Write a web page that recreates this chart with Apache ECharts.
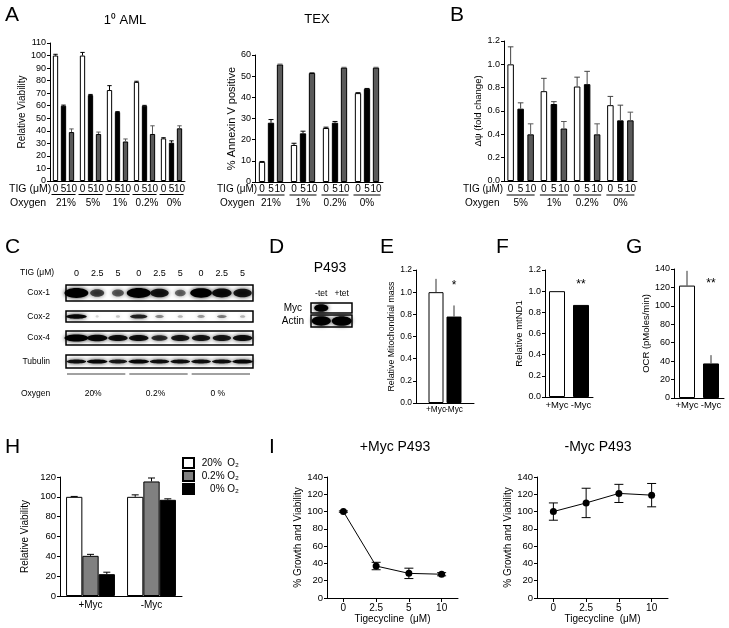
<!DOCTYPE html>
<html><head><meta charset="utf-8">
<script src="https://cdn.jsdelivr.net/npm/echarts@6/dist/echarts.min.js"></script>
<style>html,body{margin:0;padding:0;background:#fff}#c{width:729px;height:628px}</style>
</head><body><div id="c"></div>
<script>
const FONT = '"Liberation Sans", Arial, Helvetica, sans-serif';

// ---------- Panel A: 1° AML ----------
const amlOxygen = ['21%', '5%', '1%', '0.2%', '0%'];
const amlTig0  = [100, 100, 72.5, 79, 34];
const amlTig5  = [60, 68.5, 55, 60, 30.5];
const amlTig10 = [39, 37.5, 31.5, 37.5, 42];
const amlErr0  = [1, 2.5, 3.5, 0.5, 0.5];
const amlErr5  = [0.5, 0.5, 0.3, 0.3, 1.5];
const amlErr10 = [2.5, 1.5, 2, 6.5, 2];
const tigDoses = ['0', '5', '10'];

// ---------- Panel A: TEX ----------
const texOxygen = ['21%', '1%', '0.2%', '0%'];
const texTig0  = [9.5, 17.5, 25.5, 42];
const texTig5  = [28, 23, 28, 44];
const texTig10 = [55.5, 51.5, 54, 54];
const texErr0  = [0.2, 0.8, 0.4, 0.2];
const texErr5  = [1.5, 1, 0.6, 0.2];
const texErr10 = [0.2, 0.2, 0.2, 0.2];

// ---------- Panel B ----------
const dpsiOxygen = ['5%', '1%', '0.2%', '0%'];
const dpsiTig0  = [1.0, 0.77, 0.81, 0.65];
const dpsiTig5  = [0.62, 0.66, 0.83, 0.52];
const dpsiTig10 = [0.40, 0.45, 0.40, 0.52];
const dpsiErr0  = [0.15, 0.11, 0.08, 0.075];
const dpsiErr5  = [0.05, 0.02, 0.11, 0.13];
const dpsiErr10 = [0.09, 0.06, 0.09, 0.07];

// ---------- Panel C (western blot) ----------
const blotLanes = ['0', '2.5', '5', '0', '2.5', '5', '0', '2.5', '5'];
const blotRows = ['Cox-1', 'Cox-2', 'Cox-4', 'Tubulin'];
const cox1Band = [1.0, 0.55, 0.45, 1.0, 0.75, 0.4, 0.9, 0.8, 0.75];
const cox2Band = [0.85, 0.05, 0.1, 0.7, 0.3, 0.15, 0.25, 0.35, 0.15];
const cox4Band = [1.0, 0.85, 0.8, 0.8, 0.65, 0.75, 0.75, 0.75, 0.8];
const tubulinBand = [0.8, 0.85, 0.75, 0.85, 0.8, 0.8, 0.8, 0.8, 0.85];
const blotOxygen = ['20%', '0.2%', '0 %'];

// ---------- Panel D ----------
const p493Lanes = ['-tet', '+tet'];
const mycBand = [1.0, 0.0];
const actinBand = [0.95, 1.0];

// ---------- Panels E, F, G ----------
const mycLabels = ['+Myc', '-Myc'];
const mitoMass = [1.0, 0.78];
const mitoMassErr = [0.12, 0.1];
const mitoMassSig = ['', '*'];
const mtND1 = [1.0, 0.87];
const mtND1Sig = ['', '**'];
const ocr = [122, 37.5];
const ocrErr = [16, 9];
const ocrSig = ['', '**'];

// ---------- Panel H ----------
const hCats = ['+Myc', '-Myc'];
const hNames = ['20%  O₂', '0.2% O₂', '0% O₂'];
const viab20 = [100, 100];
const viab02 = [40.5, 115.5];
const viab0  = [22, 97];
const viab20Err = [0.4, 2];
const viab02Err = [1.5, 3.5];
const viab0Err  = [2, 1];

// ---------- Panel I ----------
const tigI = ['0', '2.5', '5', '10'];
const plusMycGrowth = [100, 37, 28.5, 27.5];
const plusMycErr = [0.8, 4.3, 6, 1.8];
const minusMycGrowth = [100, 110, 121, 119];
const minusMycErr = [10, 17, 10.5, 13.5];

// ================= builders =================
const grids = [], xAxes = [], yAxes = [], series = [], graphics = [];
const GRAY = '#5a5a5a';
const GRAY_H = '#808080';

function textEl(x, y, text, size, align) {
  align = align || 'center';
  return {type: 'text', x: x, y: y, silent: true,
    style: {text: text, fontSize: size, fontFamily: FONT, fill: '#000',
      align: align, verticalAlign: 'middle', textAlign: align, textVerticalAlign: 'middle'}};
}

function barPanel(o) {
  const gi = grids.length;
  grids.push({left: o.left, top: o.top, width: o.width, height: o.height});
  const xi = xAxes.length, yi = yAxes.length;
  xAxes.push({type: 'category', gridIndex: gi, data: o.cats,
    axisLine: {show: true, lineStyle: {color: '#000', width: 1}},
    axisTick: {show: !!o.xTick, alignWithLabel: true, length: 3, lineStyle: {color: '#000'}},
    axisLabel: {show: !!o.catLabels, interval: 0, margin: o.catMargin || 0, fontSize: 10, color: '#000',
      fontFamily: FONT, padding: o.catPad || 0},
    splitLine: {show: false}});
  yAxes.push({type: 'value', gridIndex: gi, min: 0, max: o.yMax, interval: o.yInt,
    axisLine: {show: true, lineStyle: {color: '#000', width: 1}},
    axisTick: {show: true, length: 3, lineStyle: {color: '#000'}},
    splitLine: {show: false},
    axisLabel: {fontSize: o.tickFont || 9, margin: 4, color: '#000', fontFamily: FONT,
      formatter: v => v.toFixed(o.dec || 0)},
    name: o.yName, nameLocation: 'middle', nameGap: o.nameGap,
    nameTextStyle: {fontSize: o.nameFont || 10, color: '#000', fontFamily: FONT}});
  const n = o.series.length;
  const step = o.bw + o.gap;
  o.series.forEach((s, si) => {
    series.push({type: 'bar', name: s.name, xAxisIndex: xi, yAxisIndex: yi, data: s.data,
      barWidth: o.bw, barGap: (o.gap / o.bw * 100) + '%',
      itemStyle: {color: s.color, borderColor: '#000', borderWidth: 1},
      emphasis: {disabled: true}, silent: true, z: 2});
    if (s.err) {
      const off = (si - (n - 1) / 2) * step;
      const ec = s.errColor || '#000';
      series.push({type: 'custom', xAxisIndex: xi, yAxisIndex: yi, clip: false, silent: true, z: 3,
        data: s.data.map((v, i) => [i, v, s.err[i]]),
        renderItem: (p, api) => {
          const ci = api.value(0), v = api.value(1), e = api.value(2);
          if (!(e > 0)) return null;
          const b = api.coord([ci, v]);
          const t = api.coord([ci, v + e]);
          const x = b[0] + off;
          return {type: 'group', children: [
            {type: 'line', shape: {x1: x, y1: b[1], x2: x, y2: t[1]}, style: {stroke: ec, lineWidth: 1}},
            {type: 'line', shape: {x1: x - o.capW, y1: t[1], x2: x + o.capW, y2: t[1]}, style: {stroke: ec, lineWidth: 1}}
          ]};
        }});
    }
  });
  if (o.sub || o.ul || o.sig) {
    series.push({type: 'custom', xAxisIndex: xi, yAxisIndex: yi, clip: false, silent: true, z: 4,
      data: o.cats.map((c, i) => [i, 0]),
      renderItem: (p, api) => {
        const ci = api.value(0);
        const base = api.coord([ci, 0]);
        const ch = [];
        if (o.sub) o.sub.forEach((t, si) => {
          ch.push(textEl(base[0] + (si - (n - 1) / 2) * step, base[1] + o.subY, t, o.subFont || 10));
        });
        if (o.ul) ch.push({type: 'line', shape: {x1: base[0] - o.ul, y1: base[1] + o.ulY, x2: base[0] + o.ul, y2: base[1] + o.ulY},
          style: {stroke: '#000', lineWidth: 1}});
        if (o.sig) o.sig.forEach((t, si) => {
          if (!t) return;
          const yy = api.coord([ci, o.yMax * 0.885])[1];
          ch.push(textEl(base[0] + (si - (n - 1) / 2) * step, yy, t, 12));
        });
        return {type: 'group', children: ch};
      }});
  }
}

function blotRow(o) {
  const gi = grids.length;
  grids.push({left: o.left, top: o.top, width: o.width, height: o.height, show: true,
    borderColor: '#000', borderWidth: 1.5, backgroundColor: '#fff'});
  const xi = xAxes.length, yi = yAxes.length;
  xAxes.push({type: 'category', gridIndex: gi, data: o.lanes, position: 'top',
    axisLine: {show: false}, axisTick: {show: false}, splitLine: {show: false},
    axisLabel: {show: !!o.laneLabels, interval: 0, margin: o.laneMargin || 6, fontSize: o.laneFont || o.font,
      color: '#000', fontFamily: FONT}});
  yAxes.push({type: 'category', gridIndex: gi, data: [o.label],
    axisLine: {show: false}, axisTick: {show: false}, splitLine: {show: false},
    axisLabel: {margin: o.labelMargin, fontSize: o.font, color: '#000', fontFamily: FONT}});
  series.push({type: 'custom', xAxisIndex: xi, yAxisIndex: yi, clip: false, silent: true, z: 3,
    data: o.bands.map((b, i) => [i, 0, b]),
    renderItem: (p, api) => {
      const a = api.value(2);
      if (!(a > 0.02)) return null;
      const c = api.coord([api.value(0), 0]);
      const sz = api.size([1, 1]);
      const w = Math.min(sz[0] * 1.2, sz[0] * o.wScale * (0.1 + 1.05 * a));
      const h = sz[1] * o.thick * (0.45 + 0.55 * a);
      return {type: 'ellipse', shape: {cx: c[0], cy: c[1], rx: w / 2, ry: h / 2},
        style: {fill: '#000', opacity: Math.min(1, 0.1 + a), shadowBlur: 4, shadowColor: 'rgba(0,0,0,0.85)'}};
    }});
  return {xi: xi, yi: yi};
}

function linePanel(o) {
  const gi = grids.length;
  grids.push({left: o.left, top: o.top, width: o.width, height: o.height});
  const xi = xAxes.length, yi = yAxes.length;
  xAxes.push({type: 'category', gridIndex: gi, data: tigI, boundaryGap: true,
    axisLine: {show: true, lineStyle: {color: '#000', width: 1}},
    axisTick: {show: true, alignWithLabel: true, length: 4, lineStyle: {color: '#000'}},
    axisLabel: {interval: 0, margin: 5, fontSize: 10, color: '#000', fontFamily: FONT},
    splitLine: {show: false},
    name: 'Tigecycline  (μM)', nameLocation: 'middle', nameGap: 16,
    nameTextStyle: {fontSize: 10, color: '#000', fontFamily: FONT}});
  yAxes.push({type: 'value', gridIndex: gi, min: 0, max: 140, interval: 20,
    axisLine: {show: true, lineStyle: {color: '#000', width: 1}},
    axisTick: {show: true, length: 3, lineStyle: {color: '#000'}},
    splitLine: {show: false},
    axisLabel: {fontSize: 9.5, margin: 4, color: '#000', fontFamily: FONT},
    name: '% Growth and Viability', nameLocation: 'middle', nameGap: 22,
    nameTextStyle: {fontSize: 10, color: '#000', fontFamily: FONT}});
  series.push({type: 'custom', xAxisIndex: xi, yAxisIndex: yi, clip: false, silent: true, z: 2,
    data: o.data.map((v, i) => [i, v, o.err[i]]),
    renderItem: (p, api) => {
      const ci = api.value(0), v = api.value(1), e = api.value(2);
      const t = api.coord([ci, v + e]), b = api.coord([ci, v - e]);
      const cw = 4.5;
      return {type: 'group', children: [
        {type: 'line', shape: {x1: t[0], y1: t[1], x2: b[0], y2: b[1]}, style: {stroke: '#000', lineWidth: 1}},
        {type: 'line', shape: {x1: t[0] - cw, y1: t[1], x2: t[0] + cw, y2: t[1]}, style: {stroke: '#000', lineWidth: 1}},
        {type: 'line', shape: {x1: b[0] - cw, y1: b[1], x2: b[0] + cw, y2: b[1]}, style: {stroke: '#000', lineWidth: 1}}
      ]};
    }});
  series.push({type: 'line', name: o.name, xAxisIndex: xi, yAxisIndex: yi, data: o.data,
    symbol: 'circle', symbolSize: 7, itemStyle: {color: '#000'}, lineStyle: {color: '#000', width: 1},
    emphasis: {disabled: true}, silent: true, z: 3});
}

// ---------- A: 1° AML ----------
barPanel({left: 50, top: 43, width: 135, height: 138, cats: amlOxygen, catLabels: true, catMargin: 17, catPad: [0, 0, 0, 5],
  yMax: 110, yInt: 10, dec: 0, yName: 'Relative Viability', nameGap: 16, nameFont: 10,
  bw: 5.3, gap: 2.7, capW: 2.2,
  series: [
    {name: 'AML 0', data: amlTig0, err: amlErr0, color: '#fff'},
    {name: 'AML 5', data: amlTig5, err: amlErr5, color: '#000'},
    {name: 'AML 10', data: amlTig10, err: amlErr10, color: GRAY, errColor: GRAY}],
  sub: tigDoses, subY: 8, subFont: 10, ul: 12, ulY: 13.5});

// ---------- A: TEX ----------
barPanel({left: 255, top: 55, width: 128, height: 127, cats: texOxygen, catLabels: true, catMargin: 16,
  yMax: 60, yInt: 10, dec: 0, yName: '% Annexin V positive', nameGap: 14, nameFont: 11,
  bw: 6.3, gap: 2.7, capW: 2.5,
  series: [
    {name: 'TEX 0', data: texTig0, err: texErr0, color: '#fff'},
    {name: 'TEX 5', data: texTig5, err: texErr5, color: '#000'},
    {name: 'TEX 10', data: texTig10, err: texErr10, color: GRAY, errColor: GRAY}],
  sub: tigDoses, subY: 7.5, subFont: 10, ul: 13.5, ulY: 13});

// ---------- B ----------
barPanel({left: 504, top: 41, width: 133, height: 140, cats: dpsiOxygen, catLabels: true, catMargin: 17,
  yMax: 1.2, yInt: 0.2, dec: 1, yName: 'Δψ (fold change)', nameGap: 18, nameFont: 9.5,
  bw: 6.5, gap: 3.5, capW: 2.8,
  series: [
    {name: 'dpsi 0', data: dpsiTig0, err: dpsiErr0, color: '#fff', errColor: '#444'},
    {name: 'dpsi 5', data: dpsiTig5, err: dpsiErr5, color: '#000', errColor: '#444'},
    {name: 'dpsi 10', data: dpsiTig10, err: dpsiErr10, color: GRAY, errColor: GRAY}],
  sub: tigDoses, subY: 8, subFont: 10, ul: 14, ulY: 14});

// ---------- C: blot ----------
const blotBands = [cox1Band, cox2Band, cox4Band, tubulinBand];
const blotGeom = [{top: 285, height: 16, thick: 0.62}, {top: 311, height: 11, thick: 0.45},
                  {top: 331, height: 14, thick: 0.5}, {top: 355, height: 13, thick: 0.35}];
let tubAxes = null;
blotRows.forEach((r, k) => {
  const ax = blotRow({left: 66, width: 187, top: blotGeom[k].top, height: blotGeom[k].height, thick: blotGeom[k].thick,
    lanes: blotLanes, laneLabels: k === 0, laneMargin: 7, laneFont: 9, label: r, labelMargin: 16, font: 8.5,
    bands: blotBands[k], wScale: 1});
  if (k === blotRows.length - 1) tubAxes = ax;
});
series.push({type: 'custom', xAxisIndex: tubAxes.xi, yAxisIndex: tubAxes.yi, clip: false, silent: true, z: 4,
  data: blotOxygen.map((o, g) => [g * 3 + 1, 0]),
  renderItem: (p, api) => {
    const c = api.coord([api.value(0), 0]);
    const sz = api.size([1, 1]);
    const yb = c[1] + sz[1] / 2;
    return {type: 'group', children: [
      {type: 'line', shape: {x1: c[0] - 1.5 * sz[0] + 1, y1: yb + 6, x2: c[0] + 1.5 * sz[0] - 3, y2: yb + 6},
        style: {stroke: '#444', lineWidth: 1}},
      textEl(c[0] - 4, yb + 26, blotOxygen[p.dataIndex], 8.5)
    ]};
  }});

// ---------- D: blot ----------
blotRow({left: 311, width: 41, top: 303, height: 10, thick: 0.75, lanes: p493Lanes, laneLabels: true,
  laneMargin: 5, laneFont: 8.5, label: 'Myc', labelMargin: 9, font: 10, bands: mycBand, wScale: 0.6});
blotRow({left: 311, width: 41, top: 315, height: 12, thick: 0.8, lanes: p493Lanes, laneLabels: false,
  label: 'Actin', labelMargin: 7, font: 10, bands: actinBand, wScale: 0.85});

// ---------- E ----------
barPanel({left: 416, top: 270, width: 58, height: 133, cats: [''],
  yMax: 1.2, yInt: 0.2, dec: 1, yName: 'Relative Mitochondrial mass', nameGap: 12, nameFont: 8.8, tickFont: 8.5,
  bw: 15, gap: 3, capW: 0,
  series: [
    {name: 'E +Myc', data: [mitoMass[0]], err: [mitoMassErr[0]], color: '#fff', errColor: '#333'},
    {name: 'E -Myc', data: [mitoMass[1]], err: [mitoMassErr[1]], color: '#000', errColor: '#333'}],
  sub: mycLabels, subY: 7, subFont: 8.3, sig: mitoMassSig});

// ---------- F ----------
barPanel({left: 545, top: 270, width: 48, height: 127, cats: [''],
  yMax: 1.2, yInt: 0.2, dec: 1, yName: 'Relative mtND1', nameGap: 20, nameFont: 9.5, tickFont: 9,
  bw: 16, gap: 8, capW: 0,
  series: [
    {name: 'F +Myc', data: [mtND1[0]], color: '#fff'},
    {name: 'F -Myc', data: [mtND1[1]], color: '#000'}],
  sub: mycLabels, subY: 8, subFont: 9.5, sig: mtND1Sig});

// ---------- G ----------
barPanel({left: 674, top: 269, width: 50, height: 129, cats: [''],
  yMax: 140, yInt: 20, dec: 0, yName: 'OCR (pMoles/min)', nameGap: 20, nameFont: 9.5, tickFont: 9,
  bw: 16, gap: 8, capW: 0,
  series: [
    {name: 'G +Myc', data: [ocr[0]], err: [ocrErr[0]], color: '#fff', errColor: '#333'},
    {name: 'G -Myc', data: [ocr[1]], err: [ocrErr[1]], color: '#000', errColor: '#333'}],
  sub: mycLabels, subY: 7, subFont: 9.5, sig: ocrSig});

// ---------- H ----------
barPanel({left: 60, top: 477, width: 122, height: 119, cats: hCats, catLabels: true, catMargin: 4,
  yMax: 120, yInt: 20, dec: 0, yName: 'Relative Viability', nameGap: 30, nameFont: 10, tickFont: 9.5,
  bw: 16.3, gap: 0, capW: 3.5,
  series: [
    {name: hNames[0], data: viab20, err: viab20Err, color: '#fff'},
    {name: hNames[1], data: viab02, err: viab02Err, color: GRAY_H},
    {name: hNames[2], data: viab0, err: viab0Err, color: '#000'}]});

// ---------- I ----------
linePanel({left: 327, top: 477, width: 131, height: 121, name: '+Myc P493', data: plusMycGrowth, err: plusMycErr});
linePanel({left: 537, top: 477, width: 131, height: 121, name: '-Myc P493', data: minusMycGrowth, err: minusMycErr});

// ---------- static text ----------
[['A', 5, 15], ['B', 450, 15], ['C', 5, 247], ['D', 269, 247], ['E', 380, 247], ['F', 496, 247],
 ['G', 626, 247], ['H', 5, 447], ['I', 269, 447]].forEach(l => graphics.push(textEl(l[1], l[2], l[0], 21, 'left')));
graphics.push(textEl(125, 20, '1⁰ AML', 13));
graphics.push(textEl(317, 19, 'TEX', 13));
graphics.push(textEl(330, 268, 'P493', 14));
graphics.push(textEl(395, 447, '+Myc P493', 14));
graphics.push(textEl(598, 447, '-Myc P493', 14));
graphics.push(textEl(9, 189, 'TIG (μM)', 10.5, 'left'));
graphics.push(textEl(10, 203.5, 'Oxygen', 10.5, 'left'));
graphics.push(textEl(217, 189, 'TIG (μM)', 10, 'left'));
graphics.push(textEl(220, 203, 'Oxygen', 10, 'left'));
graphics.push(textEl(463, 189, 'TIG (μM)', 10, 'left'));
graphics.push(textEl(465, 203, 'Oxygen', 10, 'left'));
graphics.push(textEl(20, 273, 'TIG (μM)', 8.5, 'left'));
graphics.push(textEl(21, 394, 'Oxygen', 8.5, 'left'));

const chart = echarts.init(document.getElementById('c'), null, {renderer: 'canvas'});
chart.setOption({
  animation: false,
  textStyle: {fontFamily: FONT, color: '#000'},
  tooltip: {show: false},
  grid: grids, xAxis: xAxes, yAxis: yAxes, series: series,
  legend: {data: hNames, orient: 'vertical', left: 177, top: 452, itemWidth: 11, itemHeight: 10, itemGap: 1,
    selectedMode: false, icon: 'rect',
    formatter: name => '{r|' + name + '}',
    textStyle: {rich: {r: {width: 40, align: 'right', fontSize: 10, fontFamily: FONT, color: '#000', lineHeight: 11.5}}}},
  graphic: {elements: graphics}
});
</script></body></html>
